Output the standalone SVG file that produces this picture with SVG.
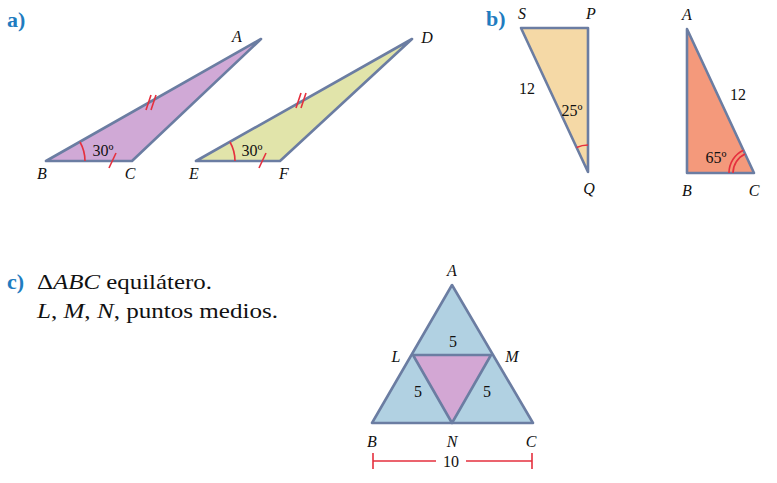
<svg xmlns="http://www.w3.org/2000/svg" width="777" height="483" viewBox="0 0 777 483">
<rect width="777" height="483" fill="#fff"/>
<text x="7" y="27" font-family="Liberation Serif" font-weight="bold" font-size="22" fill="#1f7cc0">a)</text>
<text x="486" y="26" font-family="Liberation Serif" font-weight="bold" font-size="22" fill="#1f7cc0">b)</text>
<text x="7" y="289" font-family="Liberation Serif" font-weight="bold" font-size="22" fill="#1f7cc0">c)</text>
<text x="37" y="289" font-family="Liberation Serif" font-size="22" fill="#111" textLength="175" lengthAdjust="spacingAndGlyphs">Δ<tspan font-style="italic">ABC</tspan> equilátero.</text>
<text x="37" y="318" font-family="Liberation Serif" font-size="22" fill="#111" textLength="241" lengthAdjust="spacingAndGlyphs"><tspan font-style="italic">L</tspan>, <tspan font-style="italic">M</tspan>, <tspan font-style="italic">N</tspan>, puntos medios.</text>

<g id="triABC_a">
<polygon stroke="#6b7da2" stroke-width="2.6" stroke-linejoin="round" points="46,161 132,161 261,39" fill="#d0a9d6"/>
<g fill="none" stroke="#e5303e" stroke-width="1.6">
<path d="M85,161 A39,39 0 0 0 80,142"/>
<path d="M109,168 L116,153"/>
<path d="M146,110 L151,95 M151,110 L156,95"/>
</g>
<text x="103" y="156" font-family="Liberation Serif" font-size="16" text-anchor="middle" fill="#111">30º</text>
<text x="237" y="42" font-family="Liberation Serif" font-size="16" font-style="italic" text-anchor="middle" fill="#111">A</text>
<text x="42" y="179" font-family="Liberation Serif" font-size="16" font-style="italic" text-anchor="middle" fill="#111">B</text>
<text x="130" y="179" font-family="Liberation Serif" font-size="16" font-style="italic" text-anchor="middle" fill="#111">C</text>
</g>
<g id="triDEF_a">
<polygon stroke="#6b7da2" stroke-width="2.6" stroke-linejoin="round" points="196,161 280,161 412,39" fill="#e1e4aa"/>
<g fill="none" stroke="#e5303e" stroke-width="1.6">
<path d="M235,161 A39,39 0 0 0 230,142"/>
<path d="M259,168 L266,153"/>
<path d="M296,108 L301,93 M301,108 L306,93"/>
</g>
<text x="252" y="156" font-family="Liberation Serif" font-size="16" text-anchor="middle" fill="#111">30º</text>
<text x="427" y="43" font-family="Liberation Serif" font-size="16" font-style="italic" text-anchor="middle" fill="#111">D</text>
<text x="194" y="179" font-family="Liberation Serif" font-size="16" font-style="italic" text-anchor="middle" fill="#111">E</text>
<text x="284" y="179" font-family="Liberation Serif" font-size="16" font-style="italic" text-anchor="middle" fill="#111">F</text>
</g>
<g id="triSPQ_b">
<polygon stroke="#6b7da2" stroke-width="2.6" stroke-linejoin="round" points="521,28 588,28 588,172" fill="#f5d9a6"/>
<path fill="none" stroke="#e5303e" stroke-width="1.6" d="M576.6,147.5 A27,27 0 0 1 588,145"/>
<text x="527" y="94" font-family="Liberation Serif" font-size="16" text-anchor="middle" fill="#111">12</text>
<text x="572" y="116" font-family="Liberation Serif" font-size="16" text-anchor="middle" fill="#111">25º</text>
<text x="522" y="19" font-family="Liberation Serif" font-size="16" font-style="italic" text-anchor="middle" fill="#111">S</text>
<text x="591" y="19" font-family="Liberation Serif" font-size="16" font-style="italic" text-anchor="middle" fill="#111">P</text>
<text x="589" y="194" font-family="Liberation Serif" font-size="16" font-style="italic" text-anchor="middle" fill="#111">Q</text>
</g>
<g id="triABC_b">
<polygon stroke="#6b7da2" stroke-width="2.6" stroke-linejoin="round" points="687,29 687,173 754,173" fill="#f4997b"/>
<path fill="none" stroke="#e5303e" stroke-width="1.6" d="M733,173 A21,21 0 0 1 745.1,154 M729,173 A25,25 0 0 1 743.4,150.3"/>
<text x="738" y="100" font-family="Liberation Serif" font-size="16" text-anchor="middle" fill="#111">12</text>
<text x="716" y="163" font-family="Liberation Serif" font-size="16" text-anchor="middle" fill="#111">65º</text>
<text x="687" y="20" font-family="Liberation Serif" font-size="16" font-style="italic" text-anchor="middle" fill="#111">A</text>
<text x="687" y="196" font-family="Liberation Serif" font-size="16" font-style="italic" text-anchor="middle" fill="#111">B</text>
<text x="754" y="196" font-family="Liberation Serif" font-size="16" font-style="italic" text-anchor="middle" fill="#111">C</text>
</g>
<g id="triABC_c">
<polygon stroke="#6b7da2" stroke-width="2.6" stroke-linejoin="round" points="452,285 372,423 533,423" fill="#b1d1e2"/>
<polygon stroke="#6b7da2" stroke-width="2.6" stroke-linejoin="round" points="413,355 491,355 452,423" fill="#d3a7d4"/>
<text x="453" y="347" font-family="Liberation Serif" font-size="16" text-anchor="middle" fill="#111">5</text>
<text x="418" y="397" font-family="Liberation Serif" font-size="16" text-anchor="middle" fill="#111">5</text>
<text x="487" y="397" font-family="Liberation Serif" font-size="16" text-anchor="middle" fill="#111">5</text>
<text x="452" y="276" font-family="Liberation Serif" font-size="16" font-style="italic" text-anchor="middle" fill="#111">A</text>
<text x="396" y="362" font-family="Liberation Serif" font-size="16" font-style="italic" text-anchor="middle" fill="#111">L</text>
<text x="512" y="362" font-family="Liberation Serif" font-size="16" font-style="italic" text-anchor="middle" fill="#111">M</text>
<text x="372" y="447" font-family="Liberation Serif" font-size="16" font-style="italic" text-anchor="middle" fill="#111">B</text>
<text x="452" y="447" font-family="Liberation Serif" font-size="16" font-style="italic" text-anchor="middle" fill="#111">N</text>
<text x="531" y="447" font-family="Liberation Serif" font-size="16" font-style="italic" text-anchor="middle" fill="#111">C</text>
</g>
<g id="dimension">
<path fill="none" stroke="#e5303e" stroke-width="1.6" d="M373,461 H436 M466,461 H532 M373,453 V469 M532,453 V469"/>
<text x="451" y="467" font-family="Liberation Serif" font-size="16" text-anchor="middle" fill="#111">10</text>
</g>
</svg>
